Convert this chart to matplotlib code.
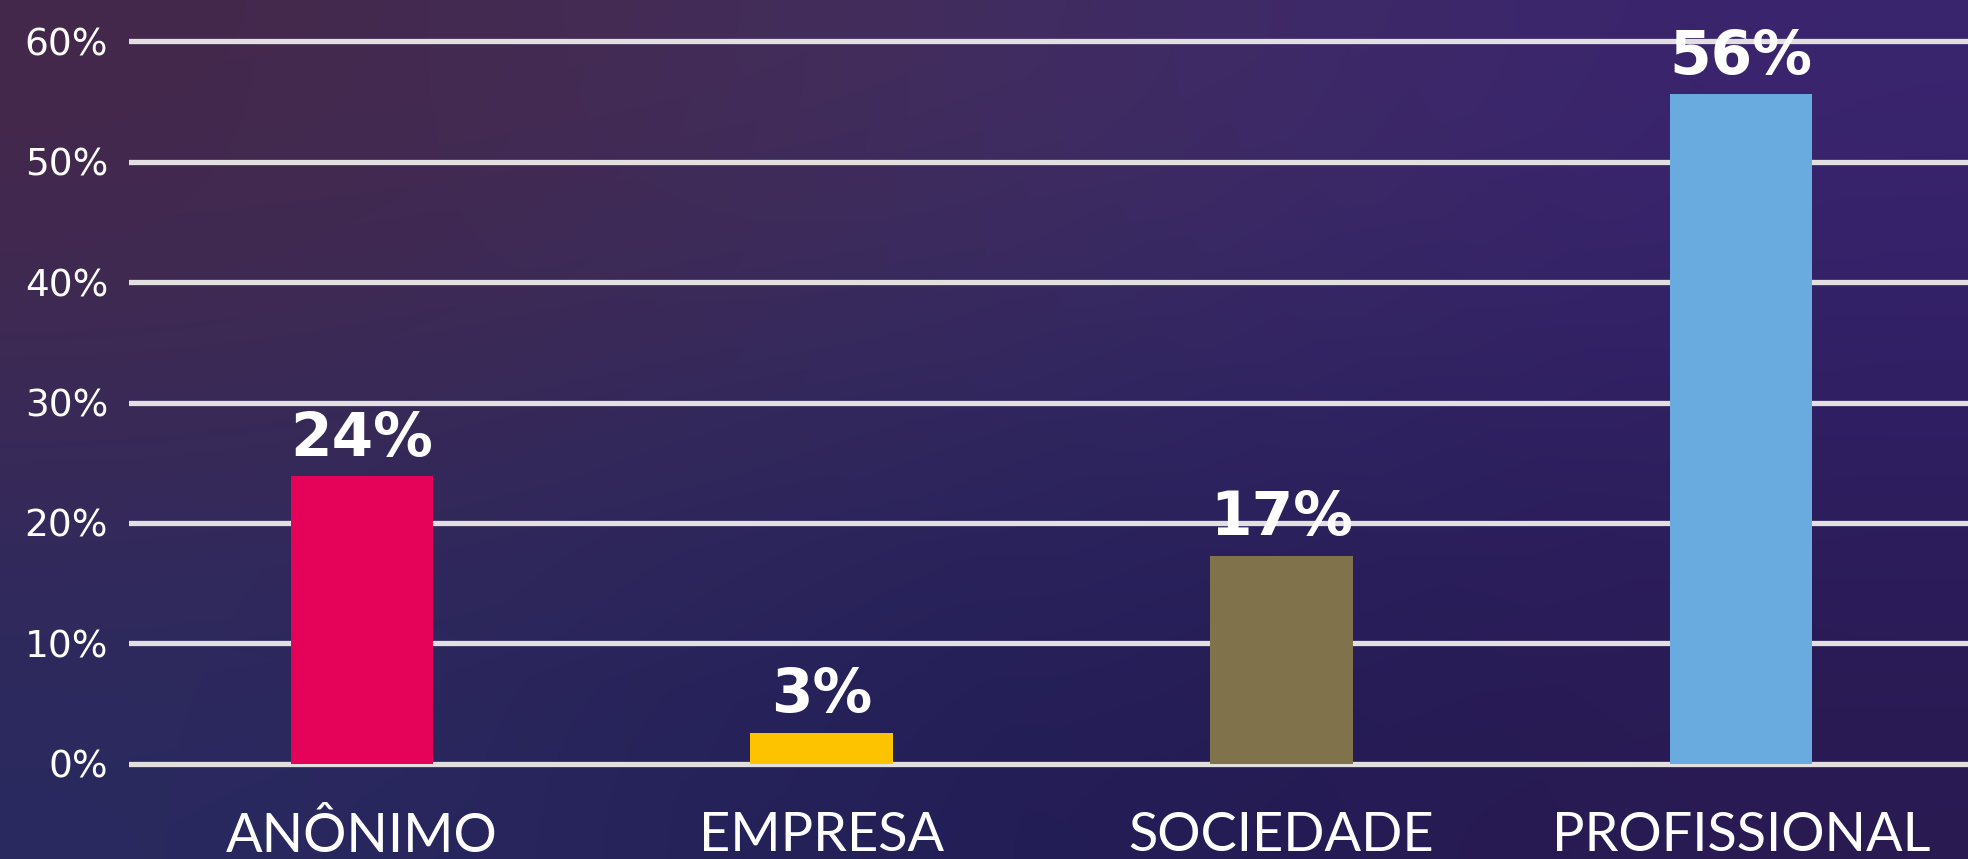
import numpy as np
import matplotlib
matplotlib.use("Agg")
import matplotlib.pyplot as plt
from matplotlib.colors import to_rgb

# data
categories = ["ANÔNIMO", "EMPRESA", "SOCIEDADE", "PROFISSIONAL"]
values = [23.9, 2.6, 17.3, 55.6]
value_labels = ["24%", "3%", "17%", "56%"]
yticks = [0, 10, 20, 30, 40, 50, 60]
ytick_labels = ["0%", "10%", "20%", "30%", "40%", "50%", "60%"]

bar_colors = ["#e5035a", "#fdc300", "#80734c", "#6aabdf"]

fig = plt.figure(figsize=(19.68, 8.59), dpi=100)

# background gradient
bg = fig.add_axes([0, 0, 1, 1])
grid_cols = [["#45284a", "#433060", "#3a2470"],
             ["#3a2a58", "#2c2860", "#2e1e62"],
             ["#2a2a60", "#201c55", "#2a1a52"]]
img = np.array([[to_rgb(c) for c in row] for row in grid_cols])
bg.imshow(img, extent=[0, 1, 0, 1], aspect="auto", interpolation="bicubic")
bg.set_xlim(0, 1)
bg.set_ylim(0, 1)
bg.axis("off")

W, H = 1968, 859
left = 129 / W
bottom = (H - 776) / H
top = (H - 29) / H
ax = fig.add_axes([left, bottom, 1 - left, top - bottom])
ax.patch.set_alpha(0)

x = np.arange(len(categories))
for t in yticks:
    ax.axhline(t, color="#e2dfe0", lw=3.8, zorder=1)

ax.bar(x, values, width=0.31, color=bar_colors, zorder=2)

for xi, v, lab in zip(x, values, value_labels):
    ax.text(xi, v + 0.6, lab, ha="center", va="bottom", color="white",
            fontsize=43, fontweight="heavy", family="DejaVu Sans", zorder=3)

ax.set_ylim(-1, 61)
ax.set_xlim(-0.507, 3.494)
ax.set_yticks(yticks)
ax.set_yticklabels(ytick_labels)
ax.set_xticks(x)
ax.set_xticklabels(categories)
ax.tick_params(axis="y", length=0, pad=15, labelsize=27, labelcolor="white")
ax.tick_params(axis="x", length=0, pad=25, labelsize=39, labelcolor="white")
for lab in ax.get_yticklabels():
    lab.set_family("DejaVu Sans")
for lab in ax.get_xticklabels():
    lab.set_family("Lato")
for s in ax.spines.values():
    s.set_visible(False)

fig.savefig("out.png", dpi=100)
